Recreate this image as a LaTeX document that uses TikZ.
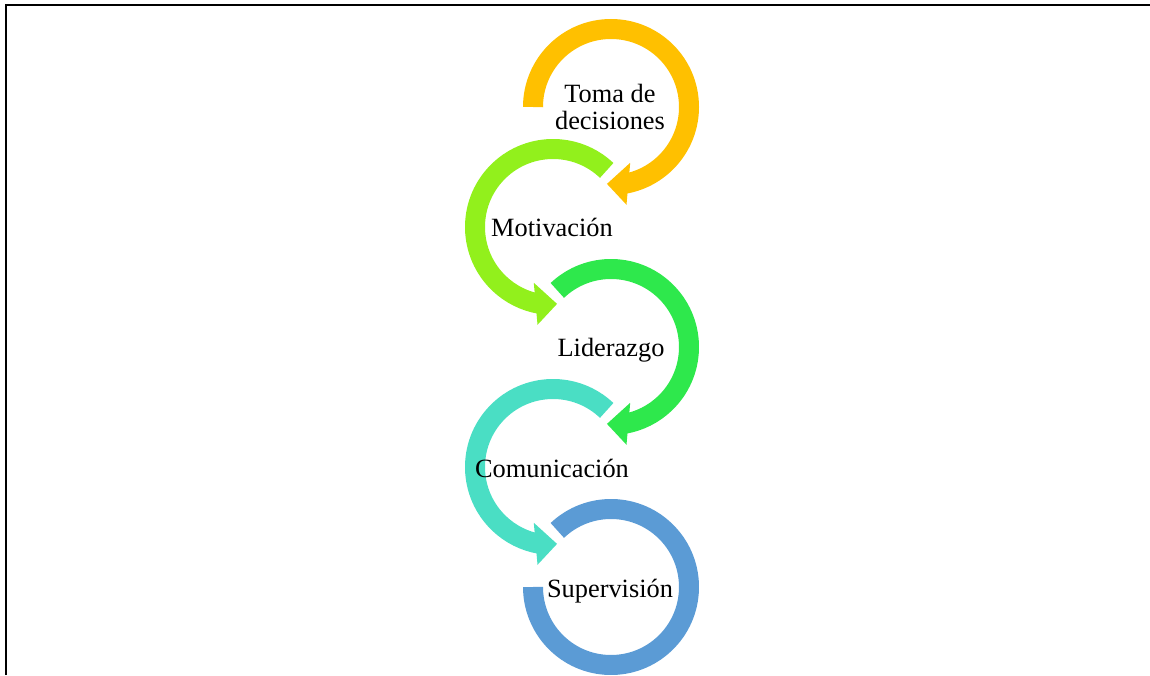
\documentclass[tikz,border=0pt]{standalone}
\usepackage{fontspec}
\setmainfont{Liberation Serif}
\usetikzlibrary{calc, math}
\definecolor{mygold}{RGB}{255,192,0}
\definecolor{mylime}{RGB}{146,240,28}
\definecolor{mygreen}{RGB}{46,232,76}
\definecolor{myteal}{RGB}{74,222,196}
\definecolor{myblue}{RGB}{91,155,213}
\tikzset{
ring/.style={line width=0.4cm, line cap=butt},
label/.style={font=\fontsize{15}{15}\selectfont, inner sep=0pt, align=center},
}

\begin{document}
\begin{tikzpicture}
\tikzmath{
\R=1.56;%mid radius of the rings
\ri=1.18;%arrow base inner
\ro=1.98;%arrow base outer
\rt=1.54;%arrow tip
}
\useasboundingbox (0,0) rectangle (23,13.5);
%frame
\draw[line width=1.1pt] (0.12,0) -- (0.12,13.4) -- (23,13.4);

\coordinate (A) at (12.22,11.36);
\coordinate (B) at (11.06,8.96);
\coordinate (C) at (12.22,6.56);
\coordinate (D) at (11.06,4.16);
\coordinate (E) at (12.22,1.76);

%right rings
\draw[ring, color=mygold] ($(A)+(180:\R)$) arc(180:-80:\R);
\fill[color=mygold] ($(A)+(-71:\ri)$) -- ($(A)+(-93:\rt)$) -- ($(A)+(-81:\ro)$) -- cycle;
\draw[ring, color=mygreen] ($(C)+(133.5:\R)$) arc(133.5:-80:\R);
\fill[color=mygreen] ($(C)+(-71:\ri)$) -- ($(C)+(-93:\rt)$) -- ($(C)+(-81:\ro)$) -- cycle;
\draw[ring, color=myblue] ($(E)+(133.5:\R)$) arc(133.5:-180:\R);
%left rings
\draw[ring, color=mylime] ($(B)+(46.5:\R)$) arc(46.5:260:\R);
\fill[color=mylime] ($(B)+(251:\ri)$) -- ($(B)+(273:\rt)$) -- ($(B)+(261:\ro)$) -- cycle;
\draw[ring, color=myteal] ($(D)+(46.5:\R)$) arc(46.5:260:\R);
\fill[color=myteal] ($(D)+(251:\ri)$) -- ($(D)+(273:\rt)$) -- ($(D)+(261:\ro)$) -- cycle;

\node[label] (toma) at ($(A)+(-0.02,0)$) {Toma de\\decisiones};
\node[label, anchor=base] (motiv) at ($(B)+(-0.02,-0.2)$) {Motivación};
\node[label, anchor=base] (lider) at ($(C)+(0,-0.2)$) {Liderazgo};
\node[label, anchor=base] (comun) at ($(D)+(-0.02,-0.2)$) {Comunicación};
\node[label, anchor=base] (superv) at ($(E)+(-0.02,-0.2)$) {Supervisión};
\end{tikzpicture}
\end{document}
